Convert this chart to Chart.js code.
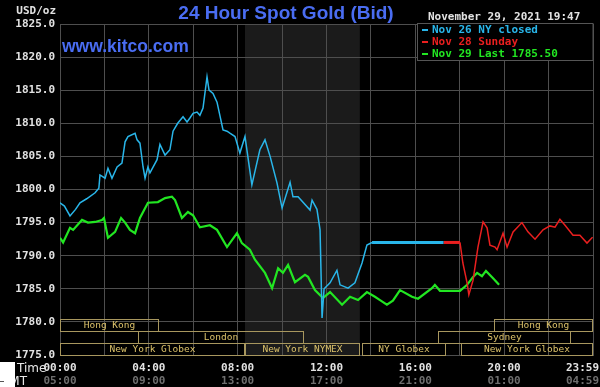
<!DOCTYPE html>
<html>
<head>
<meta charset="utf-8">
<script src="https://cdn.jsdelivr.net/npm/chart.js@4.4.0/dist/chart.umd.min.js"></script>
<style>
html, body { margin: 0; padding: 0; background: #000; }
#wrap { width: 600px; height: 387px; position: relative; }
</style>
</head>
<body>
<div id="wrap"><canvas id="gold" width="600" height="387"></canvas></div>
<script>
// times are hours after 00:00 New York time, prices in USD/oz
const nov26Hours = [0, 0.2, 0.45, 0.7, 0.9, 1.2, 1.58, 1.75, 1.8, 2.03, 2.16, 2.34, 2.57, 2.79, 2.93, 3.06, 3.38, 3.47, 3.6, 3.74, 3.83, 3.96, 4.05, 4.37, 4.5, 4.73, 4.95, 5.09, 5.3, 5.54, 5.72, 5.85, 5.99, 6.17, 6.3, 6.44, 6.62, 6.71, 6.89, 7.07, 7.34, 7.52, 7.65, 7.88, 8.1, 8.33, 8.64, 9.0, 9.23, 9.46, 9.77, 10.0, 10.36, 10.49, 10.72, 11.26, 11.35, 11.57, 11.71, 11.8, 11.89, 12.16, 12.47, 12.61, 12.97, 13.28, 13.6, 13.82, 14.05, 17.27]
const nov26Prices = [1798.0, 1797.5, 1796.0, 1797.0, 1798.0, 1798.6, 1799.5, 1800.2, 1802.2, 1801.7, 1803.2, 1801.7, 1803.4, 1804.0, 1807.2, 1808.0, 1808.5, 1807.5, 1807.0, 1803.4, 1801.7, 1803.4, 1802.5, 1804.5, 1806.8, 1805.2, 1806.0, 1808.8, 1810.0, 1811.0, 1810.2, 1810.8, 1811.5, 1811.7, 1811.2, 1812.3, 1817.0, 1815.0, 1814.5, 1813.2, 1809.0, 1808.8, 1808.5, 1808.0, 1805.5, 1808.0, 1800.7, 1806.0, 1807.5, 1805.0, 1801.0, 1797.2, 1801.1, 1798.9, 1798.9, 1796.9, 1798.4, 1797.0, 1793.9, 1780.6, 1785.0, 1785.9, 1787.8, 1785.6, 1785.1, 1785.9, 1788.9, 1791.6, 1792.0, 1792.0]

const nov28Hours = [17.27, 18.01, 18.14, 18.33, 18.41, 18.6, 18.82, 19.05, 19.23, 19.36, 19.59, 19.68, 19.95, 20.13, 20.4, 20.8, 21.07, 21.39, 21.75, 22.06, 22.29, 22.51, 22.74, 23.1, 23.41, 23.73, 23.98]
const nov28Prices = [1792.0, 1792.0, 1788.9, 1785.9, 1784.1, 1786.3, 1791.3, 1795.1, 1794.2, 1791.6, 1791.3, 1790.9, 1793.4, 1791.3, 1793.6, 1795.0, 1793.6, 1792.5, 1793.9, 1794.5, 1794.3, 1795.5, 1794.6, 1793.1, 1793.1, 1791.9, 1792.8]

const nov29Hours = [0, 0.14, 0.45, 0.59, 0.99, 1.26, 1.58, 1.89, 1.98, 2.16, 2.48, 2.75, 2.93, 3.15, 3.38, 3.6, 3.96, 4.41, 4.73, 5.04, 5.18, 5.49, 5.76, 5.99, 6.3, 6.75, 7.07, 7.52, 7.97, 8.19, 8.55, 8.78, 9.23, 9.55, 9.82, 10.04, 10.27, 10.58, 11.03, 11.17, 11.48, 11.84, 12.16, 12.7, 13.06, 13.42, 13.82, 14.18, 14.41, 14.72, 14.99, 15.31, 15.85, 16.12, 16.75, 16.88, 17.11, 18.01, 18.33, 18.6, 18.78, 19.0, 19.18, 19.5, 19.77]
const nov29Prices = [1792.7, 1792.0, 1794.2, 1793.9, 1795.4, 1795.0, 1795.1, 1795.4, 1795.7, 1792.7, 1793.6, 1795.7, 1795.0, 1793.9, 1793.4, 1795.7, 1798.0, 1798.1, 1798.7, 1798.9, 1798.4, 1795.7, 1796.6, 1796.1, 1794.3, 1794.6, 1793.9, 1791.3, 1793.4, 1791.9, 1790.9, 1789.4, 1787.4, 1785.1, 1788.1, 1787.4, 1788.6, 1786.0, 1787.1, 1786.8, 1784.8, 1783.6, 1784.5, 1782.6, 1783.8, 1783.3, 1784.5, 1783.8, 1783.3, 1782.6, 1783.2, 1784.8, 1783.8, 1783.5, 1785.1, 1785.6, 1784.7, 1784.7, 1785.6, 1786.8, 1787.4, 1786.9, 1787.7, 1786.6, 1785.6]

const seriesNames = ['Nov 26 NY closed', 'Nov 28 Sunday', 'Nov 29 Last 1785.50']

const hourTicks = [0, 4, 8, 12, 16, 20, 24]
const nyLabels = ['00:00', '04:00', '08:00', '12:00', '16:00', '20:00', '23:59']
const gmtLabels = ['05:00', '09:00', '13:00', '17:00', '21:00', '01:00', '04:59']

// market sessions, row 0 = top strip
const sessionNames = ['Hong Kong', 'Hong Kong', 'London', 'Sydney', 'New York Globex', 'New York NYMEX', 'NY Globex', 'New York Globex']
const sessionRows = [0, 0, 1, 1, 2, 2, 2, 2]
const sessionStart = [0, 19.55, 3.5, 17.0, 0, 8.33, 13.6, 18.05]
const sessionEnd = [4.47, 24, 11.0, 23.0, 8.33, 13.5, 17.37, 24]

const BLUE = '#29b6ea', RED = '#ea1f1f', GREEN = '#22e622'
const MONO = '"DejaVu Sans Mono", monospace'

const pts = (xs, ys) => xs.map((h, i) => ({ x: h, y: ys[i] }))

const goldDecor = {
  id: 'goldDecor',
  beforeDraw(chart) {
    const { ctx, chartArea: a, scales: { x } } = chart
    ctx.save()
    ctx.fillStyle = '#000'; ctx.fillRect(0, 0, chart.width, chart.height)
    // NYMEX hours shading
    const k = sessionNames.indexOf('New York NYMEX')
    const x0 = x.getPixelForValue(sessionStart[k]), x1 = x.getPixelForValue(sessionEnd[k])
    ctx.fillStyle = '#1b1b1b'
    ctx.fillRect(x0, a.top, x1 - x0, a.bottom - a.top)
    ctx.restore()
  },
  afterDatasetsDraw(chart) {
    const { ctx, chartArea: a, scales: { x } } = chart
    const rowH = 12
    ctx.save()
    ctx.font = '9.5px ' + MONO
    ctx.textAlign = 'center'; ctx.textBaseline = 'middle'
    sessionNames.forEach((name, i) => {
      const x0 = Math.round(x.getPixelForValue(sessionStart[i])) + 0.5
      const x1 = Math.round(x.getPixelForValue(sessionEnd[i])) - 0.5
      const top = Math.round(a.bottom - (3 - sessionRows[i]) * rowH) + 0.5
      ctx.strokeStyle = '#a8975e'; ctx.lineWidth = 1
      ctx.strokeRect(x0, top, x1 - x0, rowH)
      ctx.fillStyle = '#dcc26a'
      ctx.fillText(name, (x0 + x1) / 2, top + rowH / 2 + 0.5)
    })
    ctx.restore()
  },
  afterDraw(chart) {
    const { ctx, chartArea: a, scales: { x } } = chart
    ctx.save()
    // title + site
    ctx.fillStyle = '#4a6df2'
    ctx.font = 'bold 19px "Liberation Sans", Arial, sans-serif'
    ctx.textAlign = 'center'; ctx.textBaseline = 'alphabetic'
    ctx.fillText('24 Hour Spot Gold (Bid)', 286, 18.5)
    ctx.font = 'bold 17.5px "Liberation Sans", Arial, sans-serif'
    ctx.textAlign = 'left'
    ctx.fillText('www.kitco.com', 62, 51.5)
    // unit + timestamp
    ctx.font = 'bold 11px ' + MONO
    ctx.fillStyle = '#e2e2e2'
    ctx.textAlign = 'right'
    ctx.fillText('USD/oz', 56, 13.5)
    ctx.textAlign = 'left'
    ctx.fillText('November 29, 2021 19:47', 428, 20)
    // legend box
    const lx = 417, ly = a.top - 0.5, lw = a.right - lx, lh = 37
    ctx.fillStyle = '#000'; ctx.fillRect(lx, ly, lw, lh)
    ctx.strokeStyle = '#555'; ctx.lineWidth = 1
    ctx.strokeRect(lx + 0.5, ly, lw - 0.5, lh)
    const cols = [BLUE, RED, GREEN]
    seriesNames.forEach((s, i) => {
      const by = 33 + i * 12
      ctx.fillStyle = cols[i]
      ctx.fillRect(422, by - 4, 6, 2)
      ctx.fillText(s, 432, by)
    })
    // x axis labels
    hourTicks.forEach((h, i) => {
      ctx.font = 'bold 11px ' + MONO
      const w = ctx.measureText(nyLabels[i]).width
      const px = Math.min(x.getPixelForValue(h), 599 - w / 2)
      ctx.textAlign = 'center'
      ctx.fillStyle = '#e2e2e2'
      ctx.fillText(nyLabels[i], px, 371)
      ctx.fillStyle = '#6e6e6e'
      ctx.fillText(gmtLabels[i], px, 384)
    })
    ctx.font = '12px "DejaVu Sans", sans-serif'
    ctx.fillStyle = '#e8e8e8'
    ctx.textAlign = 'left'
    ctx.fillText('Time', 17, 372)
    ctx.textAlign = 'right'
    ctx.fillText('GMT', 27, 385)
    ctx.fillStyle = '#fff'
    ctx.fillRect(0, 362, 15, 25)
    ctx.fillStyle = '#555'
    ctx.fillRect(0, 381, 4, 1)
    ctx.restore()
  }
}

new Chart(document.getElementById('gold'), {
  type: 'line',
  data: {
    datasets: [
      { label: seriesNames[0], data: pts(nov26Hours, nov26Prices), borderColor: BLUE, borderWidth: 1.5,
        segment: { borderWidth: c => c.p0.parsed.x >= 14 ? 3 : 1.5 } },
      { label: seriesNames[1], data: pts(nov28Hours, nov28Prices), borderColor: RED, borderWidth: 1.5,
        segment: { borderWidth: c => c.p1.parsed.x <= 18.01 ? 3 : 1.5 } },
      { label: seriesNames[2], data: pts(nov29Hours, nov29Prices), borderColor: GREEN, borderWidth: 2.2 }
    ]
  },
  options: {
    responsive: false, animation: false,
    parsing: true,
    elements: { point: { radius: 0 }, line: { tension: 0 } },
    layout: { padding: { top: 24, right: 7, left: 0, bottom: 0 } },
    scales: {
      x: {
        type: 'linear', min: 0, max: 24,
        ticks: { stepSize: 2, display: false },
        grid: { color: '#4e4e4e', drawTicks: false },
        border: { color: '#4e4e4e' },
        afterFit: s => { s.height = 32 }
      },
      y: {
        min: 1775, max: 1825,
        ticks: { stepSize: 5, padding: 5, color: '#e2e2e2', font: { family: MONO, size: 11, weight: 'bold' },
          callback: v => Number(v).toFixed(1) },
        grid: { color: '#4e4e4e', drawTicks: false },
        border: { color: '#4e4e4e' },
        afterFit: s => { s.width = 60 }
      }
    },
    plugins: { legend: { display: false }, tooltip: { enabled: false }, title: { display: false } }
  },
  plugins: [goldDecor]
})
</script>
</body>
</html>
